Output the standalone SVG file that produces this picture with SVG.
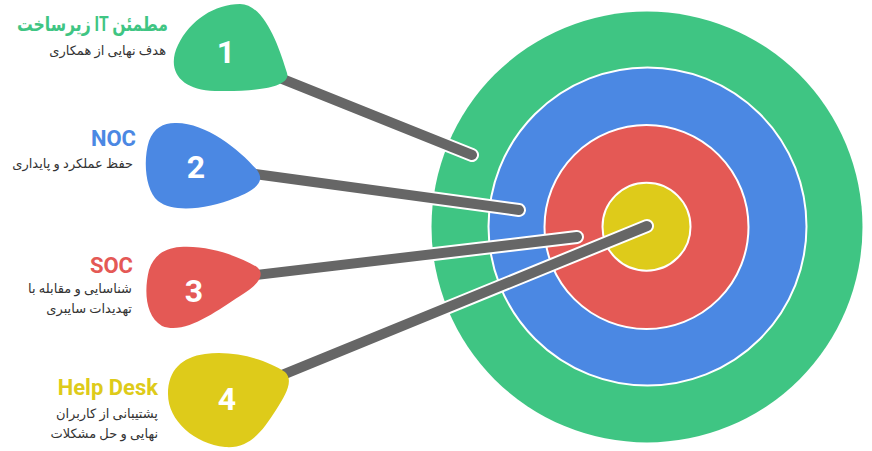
<svg xmlns="http://www.w3.org/2000/svg" width="872" height="451" viewBox="0 0 872 451">
<style>
.ring{stroke:#ffffff;stroke-width:2}
.halo{stroke:#ffffff;stroke-width:14;stroke-linecap:round;fill:none}
.shaft{stroke:#666666;stroke-width:10;stroke-linecap:round;fill:none}
.num{font-family:Roboto,"Liberation Sans",sans-serif;font-weight:bold;font-size:32px;fill:#ffffff;text-anchor:middle}
.title{font-family:Roboto,"DejaVu Sans",sans-serif;font-weight:bold;font-size:22px;text-anchor:end}
.sub{font-family:Roboto,"DejaVu Sans",sans-serif;font-size:13px;fill:#333333;text-anchor:end}
</style>
<rect width="872" height="451" fill="#ffffff"/>
<g id="target">
<circle cx="647" cy="227" r="215.5" fill="#3FC583"/>
<circle class="ring" cx="647.5" cy="226.5" r="159" fill="#4B88E3"/>
<circle class="ring" cx="646.5" cy="227" r="102" fill="#E45955"/>
<circle class="ring" cx="646.5" cy="226.7" r="44" fill="#DECB1A"/>
</g>
<g id="connectors">
<line class="halo" x1="260" y1="70" x2="472" y2="155"/>
<line class="shaft" x1="260" y1="70" x2="472" y2="155"/>
<line class="halo" x1="240" y1="172" x2="519" y2="210"/>
<line class="shaft" x1="240" y1="172" x2="519" y2="210"/>
<line class="halo" x1="240" y1="277" x2="577" y2="237"/>
<line class="shaft" x1="240" y1="277" x2="577" y2="237"/>
<line class="halo" x1="270" y1="380" x2="647" y2="226"/>
<line class="shaft" x1="270" y1="380" x2="647" y2="226"/>
</g>
<g id="node1">
<path d="M240,4 C265,4 280,50 287,73 C291,86 262,92 215,91 C180,90 166,70 178,45 C190,20 215,4 240,4 Z" fill="#3FC583"/>
<text class="num" x="226" y="63">1</text>
<text class="title" x="168" y="31" fill="#3FC583" style="font-size:20px" textLength="151" lengthAdjust="spacingAndGlyphs">زیرساخت IT مطمئن</text>
<text class="sub" x="166" y="55">هدف نهایی از همکاری</text>
</g>
<g id="node2">
<path d="M175,123 C205,122 240,150 257,170 C266,182 255,190 235,198 C210,208 175,214 158,201 C145,190 143,160 149,141 C154,128 163,123 175,123 Z" fill="#4B88E3"/>
<text class="num" x="196" y="178">2</text>
<text class="title" x="136" y="146" fill="#4B88E3">NOC</text>
<text class="sub" x="133" y="168">حفظ عملکرد و پایداری</text>
</g>
<g id="node3">
<path d="M180,247 C210,245 240,257 257,267 C266,275 258,285 240,296 C215,312 185,335 162,326 C145,316 144,290 149,270 C154,255 165,248 180,247 Z" fill="#E45955"/>
<text class="num" x="194" y="302">3</text>
<text class="title" x="133" y="273" fill="#E45955">SOC</text>
<text class="sub" x="132" y="293">شناسایی و مقابله با</text>
<text class="sub" x="132" y="313">تهدیدات سایبری</text>
</g>
<g id="node4">
<path d="M205,354 C235,350 267,360 285,372 C294,380 286,395 276,410 C262,432 249,449 225,447 C195,444 168,421 168,394 C168,370 182,357 205,354 Z" fill="#DECB1A"/>
<text class="num" x="227" y="410">4</text>
<text class="title" x="158" y="395" fill="#DECB1A">Help Desk</text>
<text class="sub" x="158" y="418">پشتیبانی از کاربران</text>
<text class="sub" x="158" y="438">نهایی و حل مشکلات</text>
</g>
</svg>
